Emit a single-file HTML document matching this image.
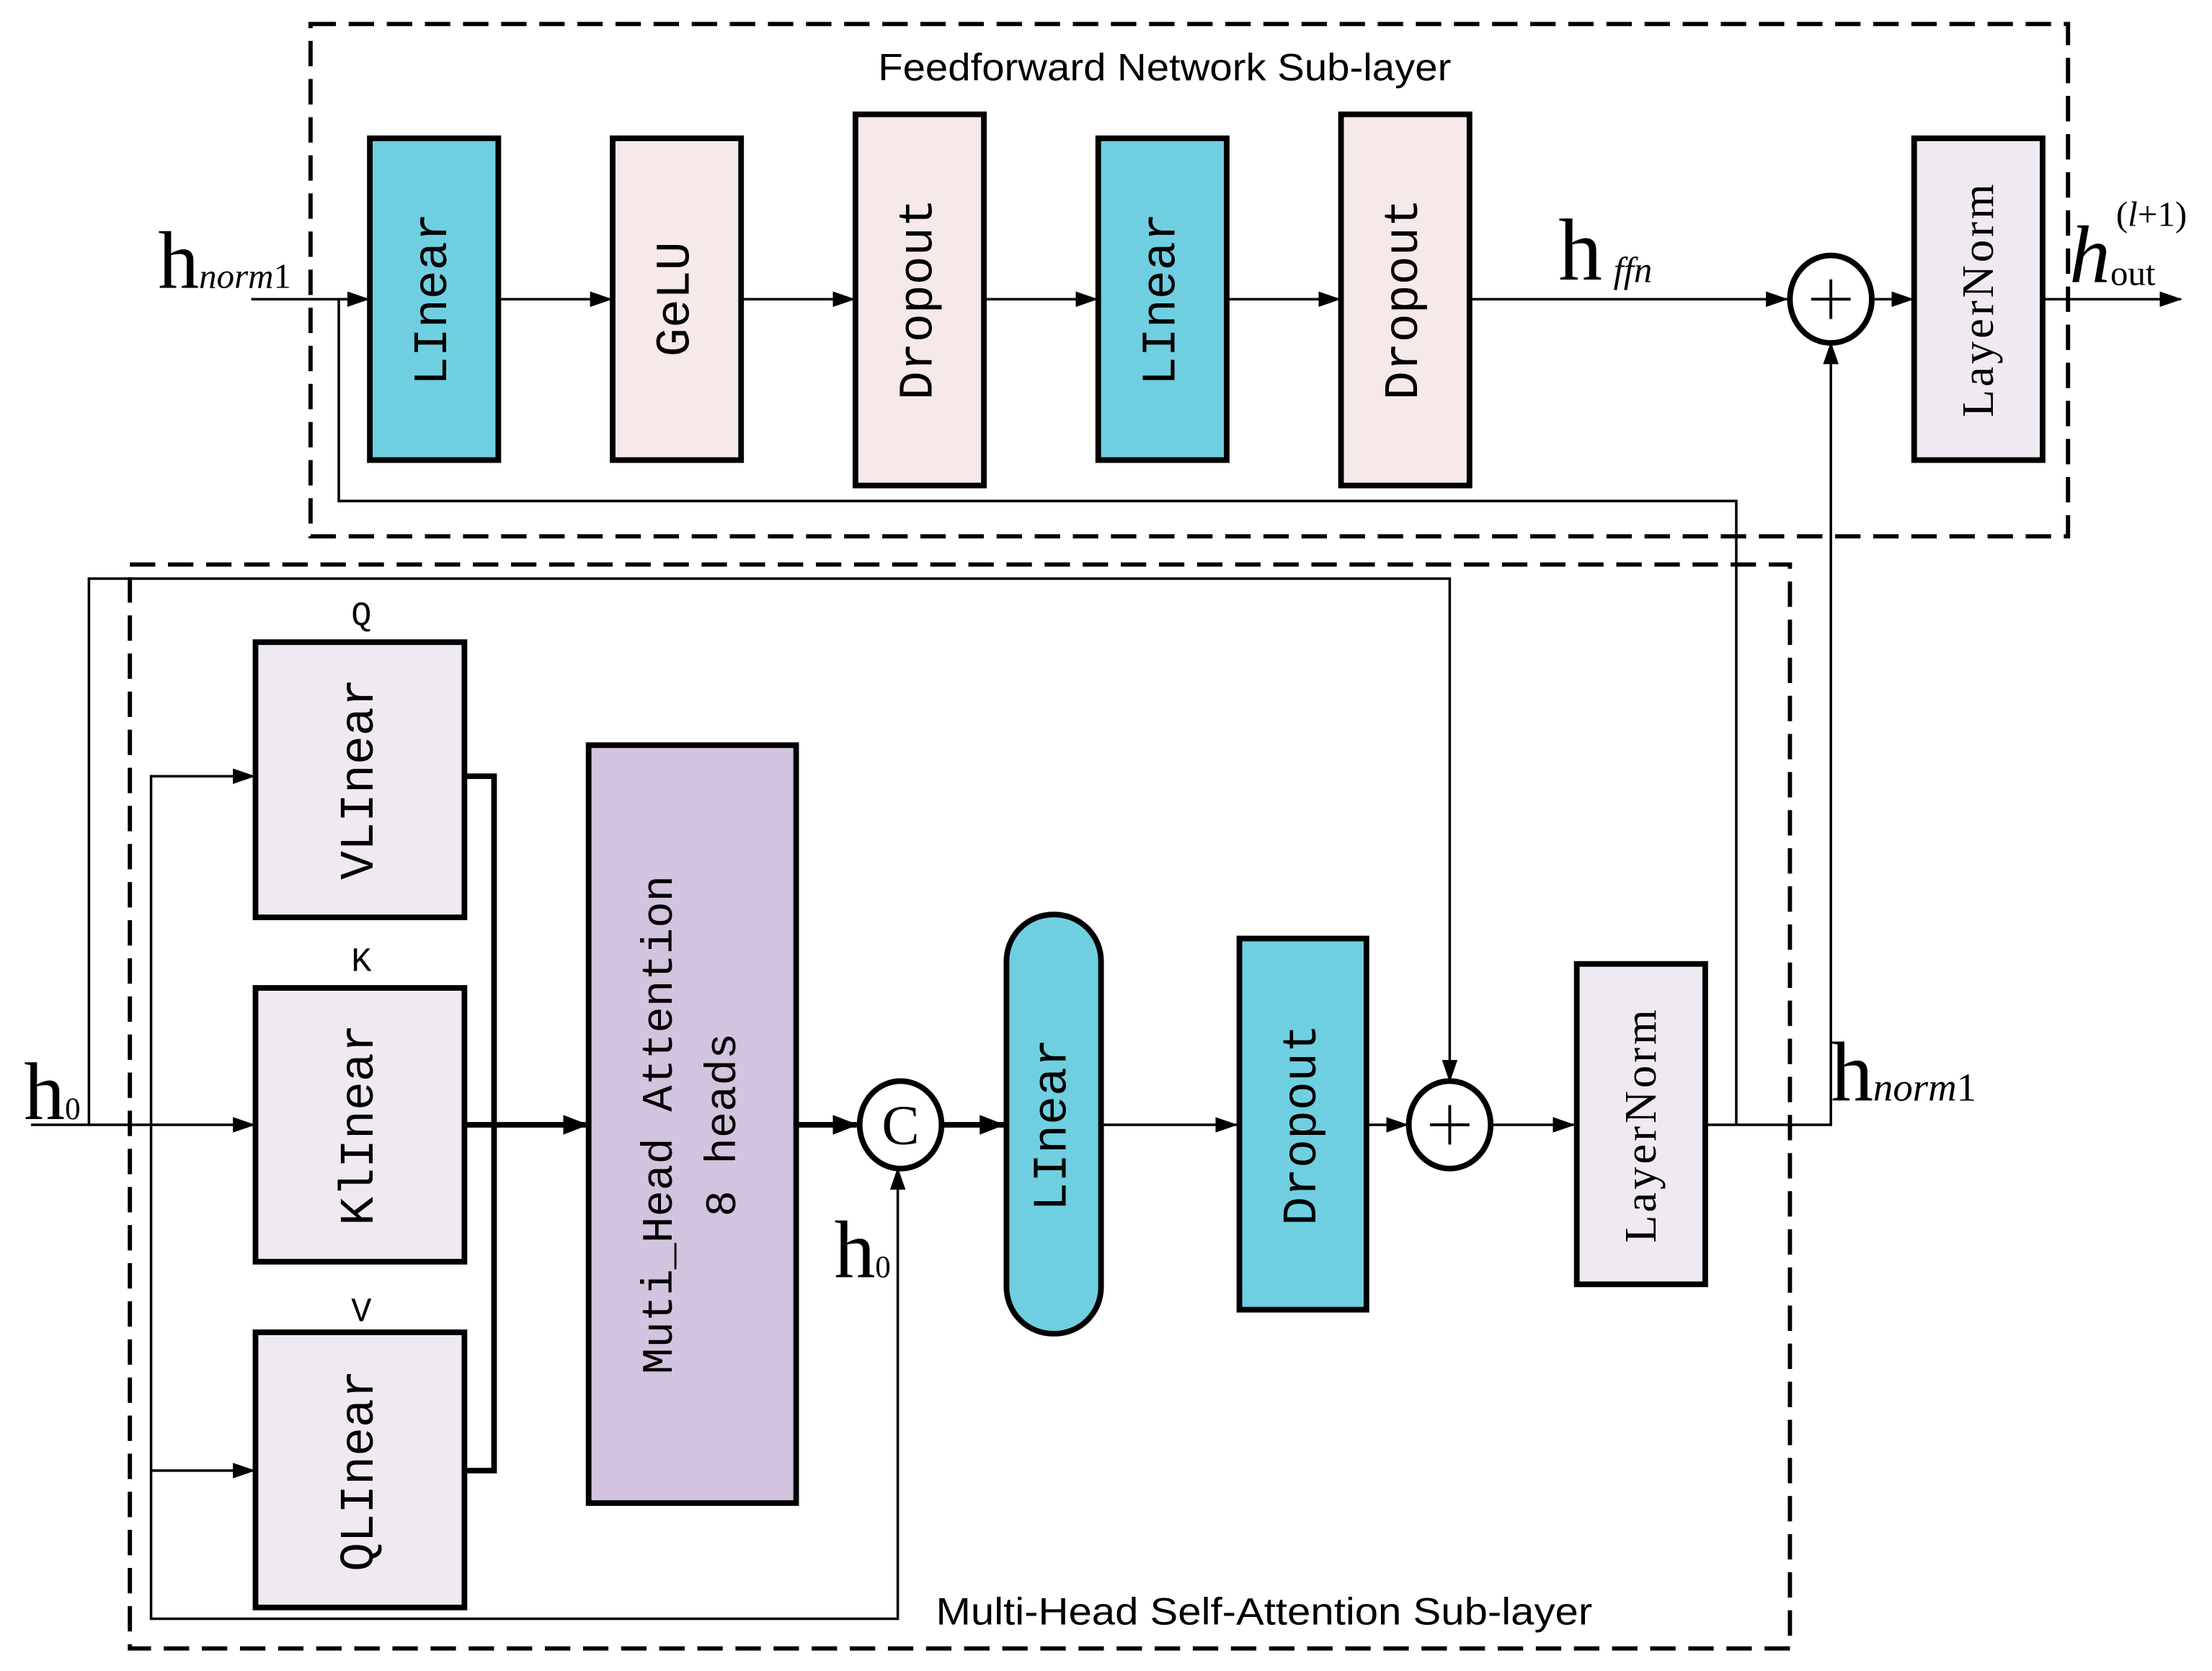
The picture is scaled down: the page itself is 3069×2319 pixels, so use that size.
<!DOCTYPE html>
<html><head><meta charset="utf-8"><style>html,body{margin:0;padding:0;background:#fff}svg{display:block}</style></head>
<body>
<svg width="3069" height="2319" viewBox="0 0 1567 1184" preserveAspectRatio="none" xmlns="http://www.w3.org/2000/svg">
<defs>
<marker id="a" markerWidth="16" markerHeight="11" refX="15" refY="5.5" orient="auto" markerUnits="userSpaceOnUse"><path d="M0,0 L16,5.5 L0,11 z" fill="#000"/></marker>
<marker id="b" markerWidth="18" markerHeight="14" refX="17" refY="7" orient="auto" markerUnits="userSpaceOnUse"><path d="M0,0 L18,7 L0,14 z" fill="#000"/></marker>
</defs>
<g fill="none" stroke="#000" stroke-width="3" stroke-dasharray="18,9">
<rect x="220" y="17" width="1245" height="363"/>
<rect x="92" y="400" width="1176" height="768"/>
</g>
<g font-family="Liberation Sans, sans-serif" font-size="27" fill="#000">
<text x="622" y="57" textLength="406" lengthAdjust="spacingAndGlyphs">Feedforward Network Sub-layer</text>
<text x="663" y="1151" textLength="465" lengthAdjust="spacingAndGlyphs">Multi-Head Self-Attention Sub-layer</text>
</g>
<g stroke="#000" stroke-width="1.8" fill="none">
<line x1="178" y1="212" x2="261" y2="212" marker-end="url(#a)"/>
<line x1="353" y1="212" x2="433" y2="212" marker-end="url(#a)"/>
<line x1="525" y1="212" x2="605" y2="212" marker-end="url(#a)"/>
<line x1="697" y1="212" x2="777" y2="212" marker-end="url(#a)"/>
<line x1="869" y1="212" x2="949" y2="212" marker-end="url(#a)"/>
<line x1="1041" y1="212" x2="1266" y2="212" marker-end="url(#a)"/>
<line x1="1328" y1="212" x2="1355" y2="212" marker-end="url(#a)"/>
<line x1="1447" y1="212" x2="1545" y2="212" marker-end="url(#a)"/>
<polyline points="240,212 240,355 1230,355 1230,797"/>
<polyline points="1208,797 1297,797 1297,243" marker-end="url(#a)"/>
<line x1="22" y1="797" x2="180" y2="797" marker-end="url(#a)"/>
<polyline points="63,797 63,410 1027,410 1027,766" marker-end="url(#a)"/>
<polyline points="180,550 107,550 107,1147 636,1147 636,828" marker-end="url(#a)"/>
<line x1="107" y1="550" x2="180" y2="550" marker-end="url(#a)"/>
<line x1="107" y1="1042" x2="180" y2="1042" marker-end="url(#a)"/>
<line x1="780" y1="797" x2="876" y2="797" marker-end="url(#a)"/>
<line x1="968" y1="797" x2="997" y2="797" marker-end="url(#a)"/>
<line x1="1057" y1="797" x2="1115" y2="797" marker-end="url(#a)"/>
</g>
<g stroke="#000" stroke-width="4" fill="none">
<polyline points="329,550 350,550 350,1042 329,1042"/>
<line x1="329" y1="797" x2="416" y2="797" marker-end="url(#b)"/>
<line x1="564" y1="797" x2="607" y2="797" marker-end="url(#b)"/>
<line x1="668" y1="797" x2="711" y2="797" marker-end="url(#b)"/>
</g>
<g stroke="#000" stroke-width="4">
<rect x="262" y="98" width="91" height="228" fill="#6fcfe0"/>
<rect x="434" y="98" width="91" height="228" fill="#f5e9e9"/>
<rect x="606" y="81" width="91" height="263" fill="#f5e9e9"/>
<rect x="778" y="98" width="91" height="228" fill="#6fcfe0"/>
<rect x="950" y="81" width="91" height="263" fill="#f5e9e9"/>
<rect x="1356" y="98" width="91" height="228" fill="#efe9f2"/>
<rect x="181" y="455" width="148" height="195" fill="#efe9f2"/>
<rect x="181" y="700" width="148" height="194" fill="#efe9f2"/>
<rect x="181" y="944" width="148" height="195" fill="#efe9f2"/>
<rect x="417" y="528" width="147" height="537" fill="#d2c3de"/>
<rect x="713" y="648" width="67" height="297" rx="33" fill="#6fcfe0"/>
<rect x="878" y="665" width="90" height="263" fill="#6fcfe0"/>
<rect x="1117" y="683" width="91" height="227" fill="#efe9f2"/>
<ellipse cx="1297" cy="212" rx="29" ry="31" fill="#fff"/>
<ellipse cx="1027" cy="797" rx="29" ry="31" fill="#fff"/>
<ellipse cx="638" cy="797" rx="29" ry="31" fill="#fff"/>
</g>
<g stroke="#000" stroke-width="2">
<line x1="1283" y1="212" x2="1311" y2="212"/><line x1="1297" y1="198" x2="1297" y2="226"/>
<line x1="1013" y1="797" x2="1041" y2="797"/><line x1="1027" y1="783" x2="1027" y2="811"/>
</g>
<text x="638" y="797" text-anchor="middle" dominant-baseline="central" font-family="Liberation Serif, serif" font-size="40">C</text>
<g font-family="Liberation Mono, monospace" font-size="34" fill="#000" text-anchor="middle" dominant-baseline="central">
<text transform="translate(307,212) rotate(-90)">LInear</text>
<text transform="translate(479,212) rotate(-90)">GeLU</text>
<text transform="translate(651,212) rotate(-90)">Dropout</text>
<text transform="translate(823,212) rotate(-90)">LInear</text>
<text transform="translate(995,212) rotate(-90)">Dropout</text>
<text transform="translate(255,552) rotate(-90)">VLInear</text>
<text transform="translate(255,797) rotate(-90)">KlInear</text>
<text transform="translate(255,1042) rotate(-90)">QLInear</text>
<text transform="translate(468,797) rotate(-90)" font-size="31">Muti_Head Attention</text>
<text transform="translate(513,797) rotate(-90)" font-size="31">8 heads</text>
<text transform="translate(746,797) rotate(-90)">LInear</text>
<text transform="translate(923,797) rotate(-90)">Dropout</text>
</g>
<g font-family="Liberation Serif, serif" font-size="32" fill="#000" text-anchor="middle" dominant-baseline="central" letter-spacing="2">
<text transform="translate(1401,212) rotate(-90)">LayerNorm</text>
<text transform="translate(1162,797) rotate(-90)">LayerNorm</text>
</g>
<g font-family="Liberation Mono, monospace" font-size="24" text-anchor="middle">
<text x="256" y="443">Q</text><text x="256" y="688">K</text><text x="256" y="936">V</text>
</g>
<g font-family="Liberation Serif, serif" fill="#000">
<text x="112" y="204" font-size="58">h<tspan font-size="25" font-style="italic">norm</tspan><tspan font-size="25">1</tspan></text>
<text x="1104" y="198" font-size="62">h<tspan font-size="26" font-style="italic" dx="8" dy="2">ffn</tspan></text>
<text x="1466" y="200" font-size="58" font-style="italic">h<tspan font-style="normal" font-size="25" dy="2">out</tspan></text>
<text x="1499" y="160" font-size="25">(<tspan font-style="italic">l</tspan>+1)</text>
<text x="17" y="793" font-size="58">h<tspan font-size="22">0</tspan></text>
<text x="591" y="905" font-size="58">h<tspan font-size="22">0</tspan></text>
<text x="1297" y="780" font-size="60">h<tspan font-size="28" font-style="italic">norm</tspan><tspan font-size="28">1</tspan></text>
</g>
</svg>
</body></html>
